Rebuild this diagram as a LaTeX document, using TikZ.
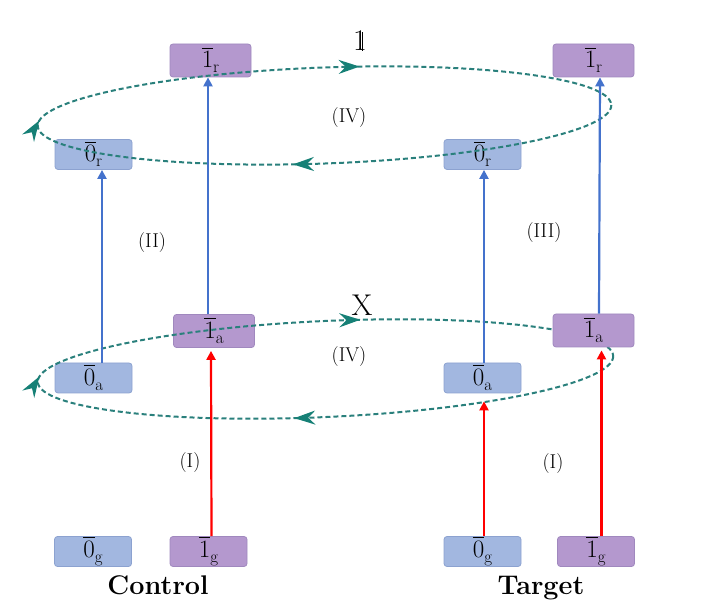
\documentclass[tikz,border=0pt]{standalone}
\usetikzlibrary{arrows.meta,decorations.markings,calc}
\definecolor{boxblue}{RGB}{162,183,224}
\definecolor{boxblueline}{RGB}{140,162,208}
\definecolor{boxpurple}{RGB}{180,152,206}
\definecolor{boxpurpleline}{RGB}{160,136,190}
\definecolor{arrblue}{RGB}{68,114,204}
\definecolor{loopteal}{RGB}{42,128,124}
\definecolor{headteal}{RGB}{22,128,118}
\newcommand{\dsone}{1\kern-5.2pt\rule{1pt}{19.3pt}\kern4.2pt}
\newcommand{\lev}[2]{\sbox0{#1}\makebox[0pt][l]{\raisebox{19pt}{\rule{\wd0}{1pt}}}#1\raisebox{-5pt}{\fontsize{17}{17}\selectfont #2}}
\newcommand{\loophead}{\arrow[headteal]{Stealth[length=21pt,width=14pt,inset=7pt]}}
\begin{document}
\begin{tikzpicture}[x=1pt,y=1pt,
  lvl/.style={draw, rounded corners=3pt, line width=0.8pt, minimum width=77pt, minimum height=30pt, inner sep=0pt, font=\fontsize{25}{25}\selectfont},
  bluebox/.style={lvl, fill=boxblue, draw=boxblueline},
  purplebox/.style={lvl, fill=boxpurple, draw=boxpurpleline},
  bigpurple/.style={purplebox, minimum width=81pt, minimum height=33pt},
  bluearrow/.style={draw=arrblue, line width=2.2pt, -{Triangle[length=9pt,width=9pt]}},
  redarrow/.style={draw=red, line width=2.2pt, -{Triangle[length=9pt,width=9pt]}},
  loopline/.style={draw=loopteal, line width=2pt, dash pattern=on 5pt off 3pt},
  steplabel/.style={font=\fontsize{20}{20}\selectfont, inner sep=0pt},
  sidelabel/.style={font=\fontsize{27}{27}\selectfont\bfseries, inner sep=0pt, anchor=base},
  oplabel/.style={font=\fontsize{30}{30}\selectfont, inner sep=0pt, anchor=base},
]
\useasboundingbox (0,0) rectangle (706,605);

% ground levels
\node[bluebox]   (g0c) at (93,53.5)    {\lev{0}{g}};
\node[purplebox] (g1c) at (208.5,53.5) {\lev{1}{g}};
\node[bluebox]   (g0t) at (482.5,53.5) {\lev{0}{g}};
\node[purplebox] (g1t) at (596,53.5)   {\lev{1}{g}};

% auxiliary levels
\node[bluebox]   (a0c) at (93.5,227)   {\lev{0}{a}};
\node[bigpurple] (a1c) at (214,274)    {\lev{1}{a}};
\node[bluebox]   (a0t) at (482.5,227)  {\lev{0}{a}};

% Rydberg levels
\node[bluebox]   (r0c) at (93.5,450.5) {\lev{0}{r}};
\node[bigpurple] (r1c) at (210.5,544.5){\lev{1}{r}};
\node[bluebox]   (r0t) at (482.5,450.5){\lev{0}{r}};
\node[bigpurple] (r1t) at (593.5,544.5){\lev{1}{r}};

% lower loop (X)
\draw[loopline, rotate around={2.6:(325.5,236)},
  decoration={markings,
    mark=at position 0.278 with {\loophead},
    mark=at position 0.505 with {\loophead},
    mark=at position 0.781 with {\loophead}},
  postaction={decorate}]
  (325.5,236) ++(288,0) arc[start angle=360, end angle=0, x radius=288, y radius=48];

\node[bigpurple] (a1t) at (593.5,274.5) {\lev{1}{a}};

% upper loop (identity)
\draw[loopline, rotate around={2.1:(324.5,489.5)},
  decoration={markings,
    mark=at position 0.278 with {\loophead},
    mark=at position 0.505 with {\loophead},
    mark=at position 0.781 with {\loophead}},
  postaction={decorate}]
  (324.5,489.5) ++(287,0) arc[start angle=360, end angle=0, x radius=287, y radius=48];

% excitation arrows
\draw[redarrow] ([xshift=3pt]g1c.north) -- ([xshift=-3pt,yshift=-3pt]a1c.south);
\draw[redarrow, shorten >=8pt] ([xshift=1.5pt]g0t.north) -- ([xshift=1.5pt]a0t.south);
\draw[redarrow] ([xshift=5.5pt]g1t.north) -- ([xshift=8pt,yshift=-3pt]a1t.south);

\draw[bluearrow] ([xshift=8.5pt]a0c.north) -- ([xshift=8.5pt]r0c.south);
\draw[bluearrow] ([xshift=-6pt]a1c.north) -- ([xshift=-2.5pt]r1c.south);
\draw[bluearrow] ([xshift=1.5pt]a0t.north) -- ([xshift=1.5pt]r0t.south);
\draw[bluearrow] ([xshift=5.5pt]a1t.north) -- ([xshift=6.5pt]r1t.south);

% labels
\node[steplabel] (lI1)  at (190,142)   {(I)};
\node[steplabel] (lI2)  at (553,141)   {(I)};
\node[steplabel] (lII)  at (152,362)   {(II)};
\node[steplabel] (lIII) at (544,372)   {(III)};
\node[steplabel] (lIV1) at (349,487)   {(IV)};
\node[steplabel] (lIV2) at (349,248)   {(IV)};
\node[oplabel]   (opX)  at (362,289)   {X};
\node[oplabel]   (opI)  at (360,554)   {\dsone};
\node[sidelabel] (ctl)  at (158,11)    {Control};
\node[sidelabel] (tgt)  at (541,11)    {Target};
\end{tikzpicture}
\end{document}
